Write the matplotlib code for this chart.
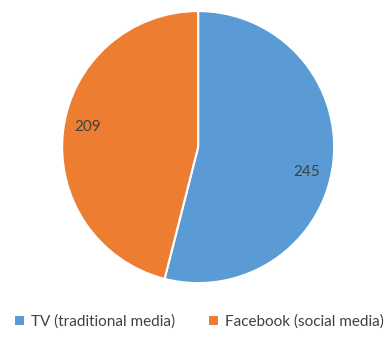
import matplotlib
matplotlib.use('Agg')
from matplotlib import pyplot as plt
from matplotlib.patches import Patch

labels = ['TV (traditional media)', 'Facebook (social media)']
values = [245, 209]
colors = ['#5B9BD5', '#ED7D31']

plt.rcParams['font.family'] = ['Lato', 'DejaVu Sans']

fig = plt.figure(figsize=(3.9, 3.51), dpi=100)
ax = fig.add_axes([0.508 - 0.3487, 0.581 - 0.3875, 0.6974, 0.775])

wedges, texts = ax.pie(values, colors=colors, startangle=90, counterclock=False,
                       labels=[str(v) for v in values], labeldistance=0.82,
                       wedgeprops=dict(edgecolor='white', linewidth=1.5))
# excel puts the data labels a bit off the wedge middle
label_pos = [(0.80, -0.18), (-0.815, 0.15)]
for t, p in zip(texts, label_pos):
    t.set_position(p)
    t.set_color('#404040')
    t.set_fontsize(11)
    t.set_ha('center')
    t.set_va('center')
ax.set_xlim(-1, 1)
ax.set_ylim(-1, 1)
ax.set_aspect('equal')

handles = [Patch(facecolor=c, edgecolor='none') for c in colors]
fig.legend(handles, labels, loc='center', bbox_to_anchor=(0.512, 1 - 322 / 351),
           ncol=2, frameon=False, fontsize=11, handlelength=0.55, handleheight=0.55,
           columnspacing=2.2, handletextpad=0.5, labelcolor='#404040',
           borderpad=0, borderaxespad=0)

fig.savefig('out.png', dpi=100)
